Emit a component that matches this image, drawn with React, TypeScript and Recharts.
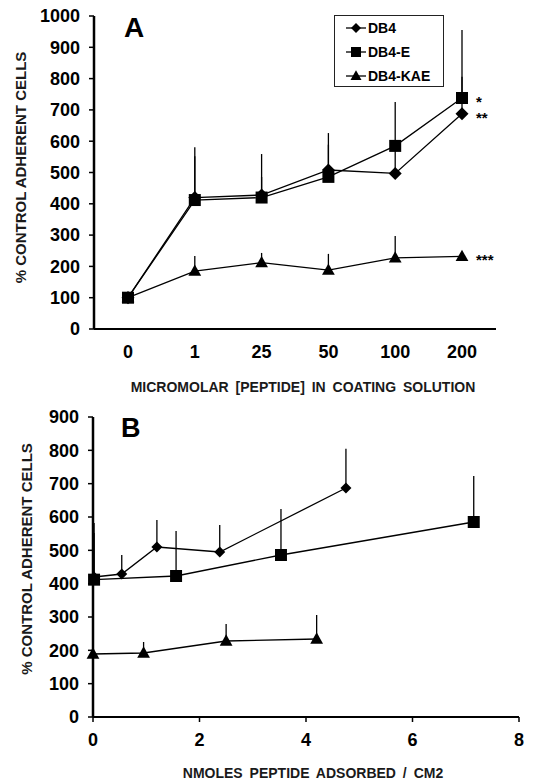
import React from "react";
import { LineChart, Line, XAxis, YAxis, ErrorBar, Legend, LabelList, Label } from "recharts";

const FONT = "'Liberation Sans', Arial, Helvetica, sans-serif";

// Panel A: adherence vs peptide concentration in coating solution
const concLabels = ["0", "1", "25", "50", "100", "200"];
const db4A = [100, 420, 428, 508, 497, 688];
const db4AErr = [0, 132, 58, 81, 81, 118];
const db4eA = [100, 412, 420, 486, 585, 738];
const db4eAErr = [0, 169, 139, 140, 140, 217];
const kaeA = [100, 185, 212, 188, 227, 232];
const kaeAErr = [0, 48, 31, 52, 70, 12];
const yTicksA = [0, 100, 200, 300, 400, 500, 600, 700, 800, 900, 1000];

// Panel B: adherence vs peptide adsorbed
const db4Bx = [0.02, 0.54, 1.2, 2.38, 4.75];
const db4By = [420, 429, 510, 495, 687];
const db4BErr = [132, 57, 81, 81, 118];
const db4eBx = [0.02, 1.56, 3.53, 7.15];
const db4eBy = [412, 423, 486, 585];
const db4eBErr = [170, 135, 138, 138];
const kaeBx = [0, 0.95, 2.5, 4.2];
const kaeBy = [189, 192, 228, 234];
const kaeBErr = [45, 33, 51, 72];
const yTicksB = [0, 100, 200, 300, 400, 500, 600, 700, 800, 900];
const xTicksB = [0, 2, 4, 6, 8];

const seriesNames = ["DB4", "DB4-E", "DB4-KAE"];
const stars = ["**", "*", "***"];

const dataA = concLabels.map((c, i) => ({
  c,
  db4: db4A[i],
  db4Err: [0, db4AErr[i]],
  db4e: db4eA[i],
  db4eErr: [0, db4eAErr[i]],
  kae: kaeA[i],
  kaeErr: [0, kaeAErr[i]],
}));

const toRows = (xs: number[], ys: number[], es: number[]) =>
  xs.map((x, i) => ({ x, y: ys[i], err: [0, es[i]] }));

const dataB = {
  db4: toRows(db4Bx, db4By, db4BErr),
  db4e: toRows(db4eBx, db4eBy, db4eBErr),
  kae: toRows(kaeBx, kaeBy, kaeBErr),
};

const diamondPath = (cx: number, cy: number, s: number) =>
  `M${cx},${cy - s}L${cx + s},${cy}L${cx},${cy + s}L${cx - s},${cy}Z`;
const squarePath = (cx: number, cy: number, s: number) =>
  `M${cx - s},${cy - s}H${cx + s}V${cy + s}H${cx - s}Z`;
const trianglePath = (cx: number, cy: number, s: number) =>
  `M${cx},${cy - s * 1.15}L${cx + s * 1.1},${cy + s * 0.8}L${cx - s * 1.1},${cy + s * 0.8}Z`;

const shapes: Record<string, (cx: number, cy: number, s: number) => string> = {
  "DB4": diamondPath,
  "DB4-E": squarePath,
  "DB4-KAE": trianglePath,
};

const makeDot = (name: string, s: number) => (p: any) => {
  if (p.cx == null || p.cy == null) return <g key={`${name}-${p.index}`} />;
  return <path key={`${name}-${p.index}`} d={shapes[name](p.cx, p.cy, s)} fill="#000" />;
};

// significance marks next to the last point of each series
const starContent = (mark: string, last: number) => (p: any) => {
  if (p.index !== last) return null;
  const x = p.x ?? p.viewBox?.x;
  const y = p.y ?? p.viewBox?.y;
  return (
    <text x={x + 14} y={y + 9} fontFamily={FONT} fontWeight="bold" fontSize={15} fill="#000">
      {mark}
    </text>
  );
};

const renderLegend = (props: any) => {
  const items = props.payload || [];
  return (
    <div
      style={{
        border: "1px solid #222",
        width: 110,
        height: 72,
        boxSizing: "border-box",
        background: "#fff",
        fontFamily: FONT,
        fontWeight: "bold",
        fontSize: 14,
        color: "#000",
      }}
    >
      {items.map((it: any) => (
        <div key={it.value} style={{ display: "flex", alignItems: "center", height: 24 }}>
          <svg width={33} height={24} style={{ flex: "none" }}>
            <line x1={11} y1={12} x2={31} y2={12} stroke="#000" strokeWidth={1.3} />
            <path d={shapes[it.value](21, 12, 5)} fill="#000" />
          </svg>
          <span style={{ lineHeight: "24px" }}>{it.value}</span>
        </div>
      ))}
    </div>
  );
};

const tickStyle = { fontFamily: FONT, fontWeight: "bold" as const, fontSize: 18, fill: "#000" };

const yTitle = (cxPos: number, dy: number) => (p: any) => {
  const vb = p.viewBox || {};
  const cy = vb.y + vb.height / 2 + dy;
  return (
    <text
      x={cxPos}
      y={cy}
      transform={`rotate(-90, ${cxPos}, ${cy})`}
      textAnchor="middle"
      dominantBaseline="central"
      fontFamily={FONT}
      fontWeight="bold"
      fontSize={15}
      fill="#1a1a1a"
    >
      % CONTROL ADHERENT CELLS
    </text>
  );
};

const xTitle = (text: string, dx: number, dy: number) => (p: any) => {
  const vb = p.viewBox || {};
  return (
    <text
      x={vb.x + vb.width / 2 + dx}
      y={vb.y + dy}
      textAnchor="middle"
      dominantBaseline="central"
      fontFamily={FONT}
      fontWeight="bold"
      fontSize={14}
      wordSpacing={3}
      fill="#1a1a1a"
    >
      {text}
    </text>
  );
};

export default function App() {
  return (
    <div style={{ position: "absolute", left: 0, top: 0, width: 536, height: 783, background: "#fff" }}>
      {/* Panel A */}
      <div style={{ position: "absolute", left: 0, top: 0 }}>
        <LineChart width={536} height={400} data={dataA} margin={{ top: 16, right: 40, bottom: 0, left: 0 }}>
          <XAxis
            dataKey="c"
            height={71}
            padding={{ left: 34, right: 34 }}
            axisLine={{ stroke: "#000", strokeWidth: 2.2 }}
            tickLine={false}
            tickSize={0}
            tickMargin={16}
            tick={tickStyle}
            interval={0}
          >
            <Label content={xTitle("MICROMOLAR [PEPTIDE] IN COATING SOLUTION", 8, 58)} />
          </XAxis>
          <YAxis
            width={94}
            domain={[0, 1000]}
            ticks={yTicksA}
            interval={0}
            axisLine={{ stroke: "#000", strokeWidth: 2.5 }}
            tickLine={{ stroke: "#000", strokeWidth: 1.5 }}
            tickSize={5}
            tickMargin={9}
            tick={tickStyle}
          >
            <Label content={yTitle(20, -5)} />
          </YAxis>
          <Legend
            content={renderLegend}
            layout="horizontal"
            align="center"
            verticalAlign="middle"
            wrapperStyle={{ position: "absolute", left: 334, top: 15, width: 110 }}
          />
          <Line
            dataKey="db4"
            name="DB4"
            stroke="#000"
            strokeWidth={1.3}
            dot={makeDot("DB4", 6.5)}
            isAnimationActive={false}
          >
            <ErrorBar dataKey="db4Err" width={0} stroke="#000" strokeWidth={1.3} />
            <LabelList dataKey="db4" content={starContent(stars[0], 5)} />
          </Line>
          <Line
            dataKey="db4e"
            name="DB4-E"
            stroke="#000"
            strokeWidth={1.3}
            dot={makeDot("DB4-E", 6)}
            isAnimationActive={false}
          >
            <ErrorBar dataKey="db4eErr" width={0} stroke="#000" strokeWidth={1.3} />
            <LabelList dataKey="db4e" content={starContent(stars[1], 5)} />
          </Line>
          <Line
            dataKey="kae"
            name="DB4-KAE"
            stroke="#000"
            strokeWidth={1.3}
            dot={makeDot("DB4-KAE", 5.8)}
            isAnimationActive={false}
          >
            <ErrorBar dataKey="kaeErr" width={0} stroke="#000" strokeWidth={1.3} />
            <LabelList dataKey="kae" content={starContent(stars[2], 5)} />
          </Line>
        </LineChart>
        <div
          style={{
            position: "absolute",
            left: 124,
            top: 12,
            fontFamily: FONT,
            fontWeight: "bold",
            fontSize: 28,
            lineHeight: "32px",
          }}
        >
          A
        </div>
      </div>

      {/* Panel B */}
      <div style={{ position: "absolute", left: 0, top: 400 }}>
        <LineChart width={536} height={383} margin={{ top: 17, right: 17, bottom: 0, left: 0 }}>
          <XAxis
            type="number"
            dataKey="x"
            domain={[0, 8]}
            ticks={xTicksB}
            interval={0}
            height={66}
            axisLine={{ stroke: "#000", strokeWidth: 2.2 }}
            tickLine={{ stroke: "#000", strokeWidth: 1.5 }}
            tickSize={5}
            tickMargin={11}
            tick={tickStyle}
            allowDuplicatedCategory={false}
          >
            <Label content={xTitle("NMOLES PEPTIDE ADSORBED / CM2", 7, 56)} />
          </XAxis>
          <YAxis
            type="number"
            dataKey="y"
            width={93}
            domain={[0, 900]}
            ticks={yTicksB}
            interval={0}
            axisLine={{ stroke: "#000", strokeWidth: 2.5 }}
            tickLine={{ stroke: "#000", strokeWidth: 1.5 }}
            tickSize={5}
            tickMargin={9}
            tick={tickStyle}
          >
            <Label content={yTitle(26, -8)} />
          </YAxis>
          <Line
            data={dataB.db4}
            dataKey="y"
            name={seriesNames[0]}
            stroke="#000"
            strokeWidth={1.3}
            dot={makeDot("DB4", 5.5)}
            isAnimationActive={false}
          >
            <ErrorBar dataKey="err" width={0} stroke="#000" strokeWidth={1.3} />
          </Line>
          <Line
            data={dataB.db4e}
            dataKey="y"
            name={seriesNames[1]}
            stroke="#000"
            strokeWidth={1.3}
            dot={makeDot("DB4-E", 6)}
            isAnimationActive={false}
          >
            <ErrorBar dataKey="err" width={0} stroke="#000" strokeWidth={1.3} />
          </Line>
          <Line
            data={dataB.kae}
            dataKey="y"
            name={seriesNames[2]}
            stroke="#000"
            strokeWidth={1.3}
            dot={makeDot("DB4-KAE", 5.8)}
            isAnimationActive={false}
          >
            <ErrorBar dataKey="err" width={0} stroke="#000" strokeWidth={1.3} />
          </Line>
        </LineChart>
        <div
          style={{
            position: "absolute",
            left: 121,
            top: 13,
            fontFamily: FONT,
            fontWeight: "bold",
            fontSize: 27,
            lineHeight: "30px",
          }}
        >
          B
        </div>
      </div>
    </div>
  );
}
